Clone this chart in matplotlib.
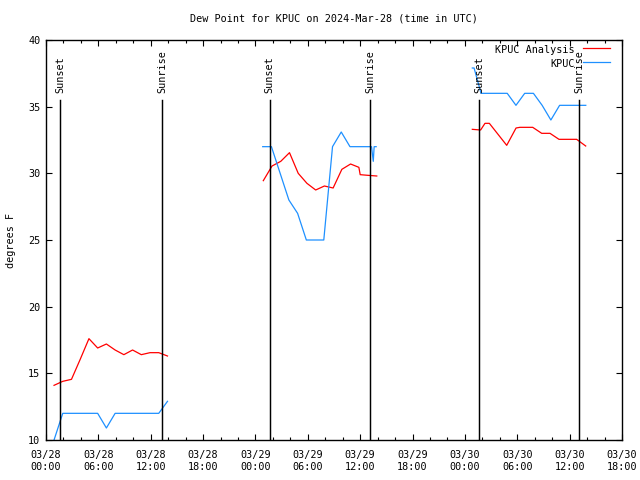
import numpy as np
import matplotlib
matplotlib.use("Agg")
import matplotlib.pyplot as plt

plt.rcParams['font.family'] = ['DejaVu Sans Mono']
FS = 7.3

# hours since 2024-03-28 00:00 UTC
analysis_hours = [0.92, 1.92, 2.92, 3.92, 4.92, 5.92, 6.92, 7.92, 8.92, 9.92, 10.92, 11.92, 12.92, 13.92,
                  np.nan,
                  24.9, 25.9, 26.9, 27.9, 28.9, 29.9, 30.9, 31.9, 32.9, 33.9, 34.9, 35.85, 36.0, 36.9, 37.9,
                  np.nan,
                  48.85, 49.8, 50.3, 50.8, 52.79, 53.86, 54.3, 55.77, 56.8, 57.75, 58.78, 60.8, 61.84]
analysis_vals = [14.1, 14.4, 14.55, 16.05, 17.6, 16.9, 17.2, 16.75, 16.4, 16.75, 16.4, 16.55, 16.55, 16.3,
                 np.nan,
                 29.45, 30.55, 30.9, 31.55, 30.0, 29.25, 28.75, 29.05, 28.9, 30.3, 30.7, 30.45, 29.9, 29.85, 29.8,
                 np.nan,
                 33.3, 33.25, 33.75, 33.75, 32.1, 33.4, 33.45, 33.45, 33.0, 33.0, 32.55, 32.55, 32.05]

obs_hours = [0.92, 1.92, 2.92, 3.92, 4.92, 5.92, 6.92, 7.92, 8.92, 9.92, 10.92, 11.92, 12.92, 13.92,
             np.nan,
             24.83, 25.83, 26.83, 27.83, 28.83, 29.83, 30.83, 31.83, 32.83, 33.83, 34.83, 35.83, 36.83,
             37.3, 37.5, 37.6, 37.83,
             np.nan,
             48.85, 49.05, 49.85, 50.85, 51.85, 52.85, 53.85, 54.85, 55.85, 56.85, 57.85, 58.85, 59.85,
             60.85, 61.85]
obs_vals = [10.0, 12.0, 12.0, 12.0, 12.0, 12.0, 10.9, 12.0, 12.0, 12.0, 12.0, 12.0, 12.0, 12.9,
            np.nan,
            32.0, 32.0, 30.0, 28.0, 27.0, 25.0, 25.0, 25.0, 32.0, 33.1, 32.0, 32.0, 32.0,
            32.0, 30.9, 32.0, 32.0,
            np.nan,
            37.9, 37.9, 36.0, 36.0, 36.0, 36.0, 35.1, 36.0, 36.0, 35.1, 34.0, 35.1, 35.1,
            35.1, 35.1]

sun_hours = [1.64, 13.33, 25.63, 37.16, 49.65, 61.11]
sun_labels = ['Sunset', 'Sunrise', 'Sunset', 'Sunrise', 'Sunset', 'Sunrise']

tick_hours = list(range(0, 67, 6))
tick_labels = ['03/28\n00:00', '03/28\n06:00', '03/28\n12:00', '03/28\n18:00',
               '03/29\n00:00', '03/29\n06:00', '03/29\n12:00', '03/29\n18:00',
               '03/30\n00:00', '03/30\n06:00', '03/30\n12:00', '03/30\n18:00']

fig = plt.figure(figsize=(6.4, 4.8), dpi=100)
ax = fig.add_axes([46/640, 40/480, 576/640, 400/480])

ax.plot(analysis_hours, analysis_vals, color='#ff0000', lw=0.9)
ax.plot(obs_hours, obs_vals, color='#1e90ff', lw=0.9)

for h, lab in zip(sun_hours, sun_labels):
    ax.plot([h, h], [10, 35.5], color='black', lw=1.05)
    ax.text(h, 36.05, lab, rotation=90, ha='center', va='bottom', fontsize=FS)

ax.set_xlim(0, 66)
ax.set_ylim(10, 40)
ax.set_xticks(tick_hours)
ax.set_xticklabels(tick_labels, fontsize=FS, linespacing=1.3)
ax.set_xticks(range(0, 67, 2), minor=True)
ax.set_yticks(range(10, 41, 5))
ax.set_yticklabels([str(v) for v in range(10, 41, 5)], fontsize=FS)
ax.tick_params(which='major', direction='in', length=4.5, width=0.8, top=True, right=True, pad=4)
ax.tick_params(which='minor', direction='in', length=2.2, width=0.8, top=True, right=False)
ax.tick_params(axis='x', which='major', pad=7)
for s in ax.spines.values():
    s.set_linewidth(1.0)

ax.set_ylabel('degrees F', fontsize=FS, labelpad=9)
ax.set_title('Dew Point for KPUC on 2024-Mar-28 (time in UTC)', fontsize=FS, pad=13)

# legend (gnuplot style: text right-aligned, sample on the right)
ax.text(0.918, 0.976, 'KPUC Analysis', transform=ax.transAxes, ha='right', va='center', fontsize=FS)
ax.plot([0.932, 0.979], [0.98, 0.98], transform=ax.transAxes, color='#ff0000', lw=0.9)
ax.text(0.918, 0.941, 'KPUC', transform=ax.transAxes, ha='right', va='center', fontsize=FS)
ax.plot([0.932, 0.979], [0.945, 0.945], transform=ax.transAxes, color='#1e90ff', lw=0.9)

fig.savefig('out.png', dpi=100)
